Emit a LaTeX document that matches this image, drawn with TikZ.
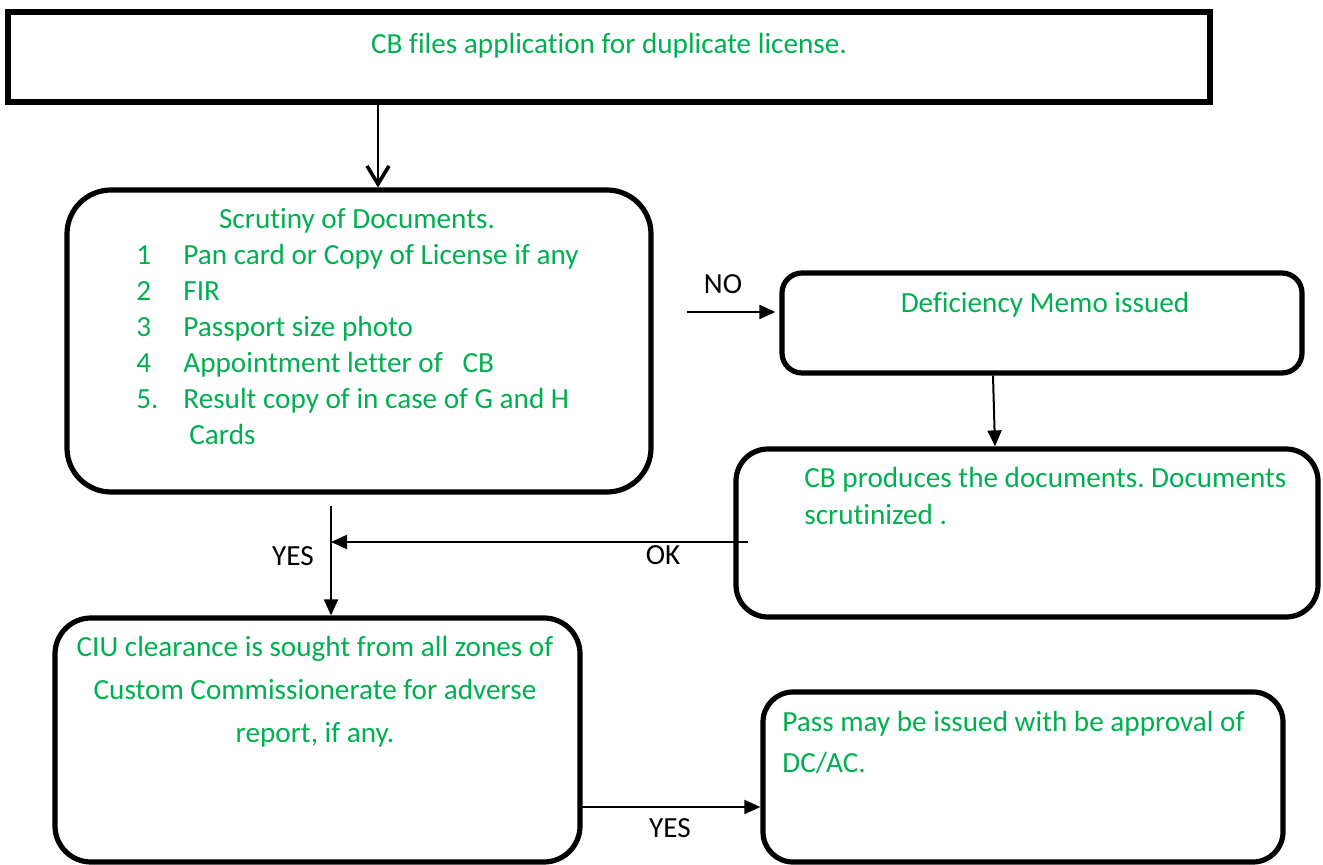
\documentclass[tikz,border=0pt]{standalone}
\usepackage{fontspec}
\setmainfont{Carlito}[Ligatures=NoCommon]
\usetikzlibrary{arrows.meta}
\definecolor{docgreen}{RGB}{0,176,80}
\frenchspacing

\begin{document}
\begin{tikzpicture}[x=0.5pt, y=-0.5pt,
  every node/.style={font=\fontsize{14.6}{18}\selectfont},
  box/.style={draw, line width=3pt, inner sep=0pt},
  roundbox/.style={box, line width=2.6pt, rounded corners=#1},
  txt/.style={text=docgreen, inner sep=0pt, anchor=base},
  lbl/.style={inner sep=0pt, anchor=base},
  arr/.style={line width=1pt, -{Triangle[length=8pt,width=7pt]}}]
  \useasboundingbox (0,0) rectangle (1323,865);

  % boxes
  \node[box, minimum width=601pt, minimum height=45pt] (apply) at (609,57) {};
  \node[roundbox=22pt, minimum width=292pt, minimum height=151pt] (scrut) at (359,341) {};
  \node[roundbox=10pt, minimum width=260pt, minimum height=50pt] (defic) at (1042,323) {};
  \node[roundbox=16pt, minimum width=291pt, minimum height=84pt] (cbprod) at (1027,533) {};
  \node[roundbox=18pt, minimum width=262.5pt, minimum height=122pt] (ciu) at (317.5,740) {};
  \node[roundbox=15pt, minimum width=260pt, minimum height=85pt] (pass) at (1023,777) {};

  % texts
  \node[txt] (applytxt) at (609,54) {CB files application for duplicate license.};
  \node[txt] (scruthead) at (357,229) {Scrutiny of Documents.};
  \foreach \n/\t [count=\i] in {1/Pan card or Copy of License if any, 2/FIR,
      3/Passport size photo, 4/Appointment letter of\ \ \ CB,
      5./Result copy of in case of G and H} {
    \node[txt, anchor=base west] (num\i) at (136,229+36*\i) {\n};
    \node[txt, anchor=base west] (item\i) at (183,229+36*\i) {\t};
  }
  \node[txt, anchor=base west] (item6) at (189,445) {Cards};
  \node[txt] (defictxt) at (1045,313) {Deficiency Memo issued};
  \node[txt, anchor=base west] (cbprod1) at (804,488) {CB produces the documents. Documents};
  \node[txt, anchor=base west] (cbprod2) at (804,525) {scrutinized .};
  \node[txt] (ciu1) at (315,657) {CIU clearance is sought from all zones of};
  \node[txt] (ciu2) at (315,700) {Custom Commissionerate for adverse};
  \node[txt] (ciu3) at (315,742) {report, if any.};
  \node[txt, anchor=base west] (pass1) at (782,732) {Pass may be issued with be approval of};
  \node[txt, anchor=base west] (pass2) at (782,772) {DC/AC.};

  % connectors
  \coordinate (downx) at (378,0);
  \draw[line width=1pt, -{Straight Barb[length=9pt,width=11pt,line width=1.8pt]}]
    (apply.south -| downx) -- (scrut.north -| downx);
  \coordinate (nostart) at (687,312);
  \draw[arr, shorten >=2pt] (nostart) -- (nostart -| defic.west);
  \node[lbl] (nolbl) at (723,294) {NO};
  \draw[arr] ([xshift=-24.5pt]defic.south) -- ([xshift=-16pt]cbprod.north);
  \coordinate (yestop) at (331,506);
  \draw[arr] (yestop) -- (yestop |- ciu.north);
  \node[lbl] (yeslbl) at (293,566) {YES};
  \coordinate (okstart) at (748,542);
  \draw[arr] (okstart) -- (okstart -| yestop);
  \node[lbl] (oklbl) at (663,565) {OK};
  \coordinate (yesstart) at (578,807);
  \draw[arr] (yesstart) -- (yesstart -| pass.west);
  \node[lbl] (yeslbl2) at (670,837) {YES};
\end{tikzpicture}
\end{document}
